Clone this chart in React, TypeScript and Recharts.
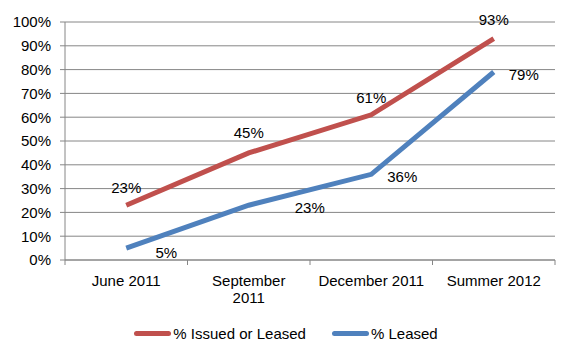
import React from "react";
import { LineChart, Line, XAxis, YAxis, CartesianGrid, Legend } from "recharts";

const categories = ["June 2011", "September 2011", "December 2011", "Summer 2012"];
const issuedOrLeased = [23, 45, 61, 93];
const leased = [5, 23, 36, 79];
const yTicks = [0, 10, 20, 30, 40, 50, 60, 70, 80, 90, 100];

const RED = "#C0504D";
const BLUE = "#4F81BD";
const AXIS = "#868686";
const FONT = "Arial, 'Liberation Sans', sans-serif";
const FS = 15;

const W = 568;
const H = 350;
const PLOT_LEFT = 65;
const PLOT_RIGHT = 555;
const BAND = (PLOT_RIGHT - PLOT_LEFT) / categories.length;

// label nudges (text centre relative to the point), Excel-ish placement
const redOffsets = [
  [0, -18],
  [0, -20],
  [0, -17],
  [0, -19],
];
const blueOffsets = [
  [40, 4],
  [61, 2],
  [31, 2],
  [30, 3],
];

const data = categories.map((c, i) => ({ name: c, issued: issuedOrLeased[i], leased: leased[i] }));

const makeLabel = (offsets: number[][]) => (props: any) => {
  const { x, y, value, index } = props;
  const [dx, dy] = offsets[index] || [0, 0];
  return (
    <text x={x + dx} y={y + dy} textAnchor="middle" dominantBaseline="central" fontSize={FS} fontFamily={FONT} fill="#000">
      {value}%
    </text>
  );
};

function CategoryTick(props: any) {
  const { x, y, payload, index } = props;
  const label: string = payload.value;
  const lines = label.startsWith("September") ? label.split(" ") : [label];
  const left = x - BAND / 2;
  return (
    <g>
      <line x1={left} y1={y} x2={left} y2={y + 5} stroke={AXIS} />
      {index === categories.length - 1 && <line x1={x + BAND / 2} y1={y} x2={x + BAND / 2} y2={y + 5} stroke={AXIS} />}
      {lines.map((l, i) => (
        <text key={i} x={x} y={y + 20 + i * 17} dominantBaseline="central" textAnchor="middle" fontSize={FS} fontFamily={FONT} fill="#000">
          {l}
        </text>
      ))}
    </g>
  );
}

function LegendContent() {
  const items = [
    { label: "% Issued or Leased", color: RED },
    { label: "% Leased", color: BLUE },
  ];
  return (
    <div style={{ display: "flex", justifyContent: "center", gap: 26, fontFamily: FONT, fontSize: FS, color: "#000" }}>
      {items.map((it) => (
        <div key={it.label} style={{ display: "flex", alignItems: "center" }}>
          <span style={{ display: "inline-block", width: 37, height: 5, borderRadius: 3, background: it.color, marginRight: 2 }} />
          <span>{it.label}</span>
        </div>
      ))}
    </div>
  );
}

export default function App() {
  return (
    <div style={{ margin: -8, width: W, height: H, background: "#fff" }}>
      <LineChart width={W} height={H} data={data} margin={{ top: 22, right: W - PLOT_RIGHT, left: 0, bottom: 40 }}>
        <CartesianGrid horizontal vertical={false} stroke={AXIS} />
        <XAxis
          dataKey="name"
          height={50}
          stroke={AXIS}
          tickLine={false}
          tickSize={0}
          tickMargin={0}
          interval={0}
          padding={{ left: BAND / 2, right: BAND / 2 }}
          tick={<CategoryTick />}
        />
        <YAxis
          width={PLOT_LEFT}
          domain={[0, 100]}
          ticks={yTicks}
          interval={0}
          stroke={AXIS}
          tickSize={5}
          tickMargin={9}
          tickFormatter={(v) => `${v}%`}
          tick={{ fill: "#000", fontSize: FS, fontFamily: FONT }}
        />
        <Legend verticalAlign="middle" align="center" layout="horizontal" wrapperStyle={{ top: 325, left: 2, width: W }} content={<LegendContent />} />
        <Line type="linear" dataKey="issued" name="% Issued or Leased" stroke={RED} strokeWidth={5} dot={false} isAnimationActive={false} label={makeLabel(redOffsets)} />
        <Line type="linear" dataKey="leased" name="% Leased" stroke={BLUE} strokeWidth={5} dot={false} isAnimationActive={false} label={makeLabel(blueOffsets)} />
      </LineChart>
    </div>
  );
}
